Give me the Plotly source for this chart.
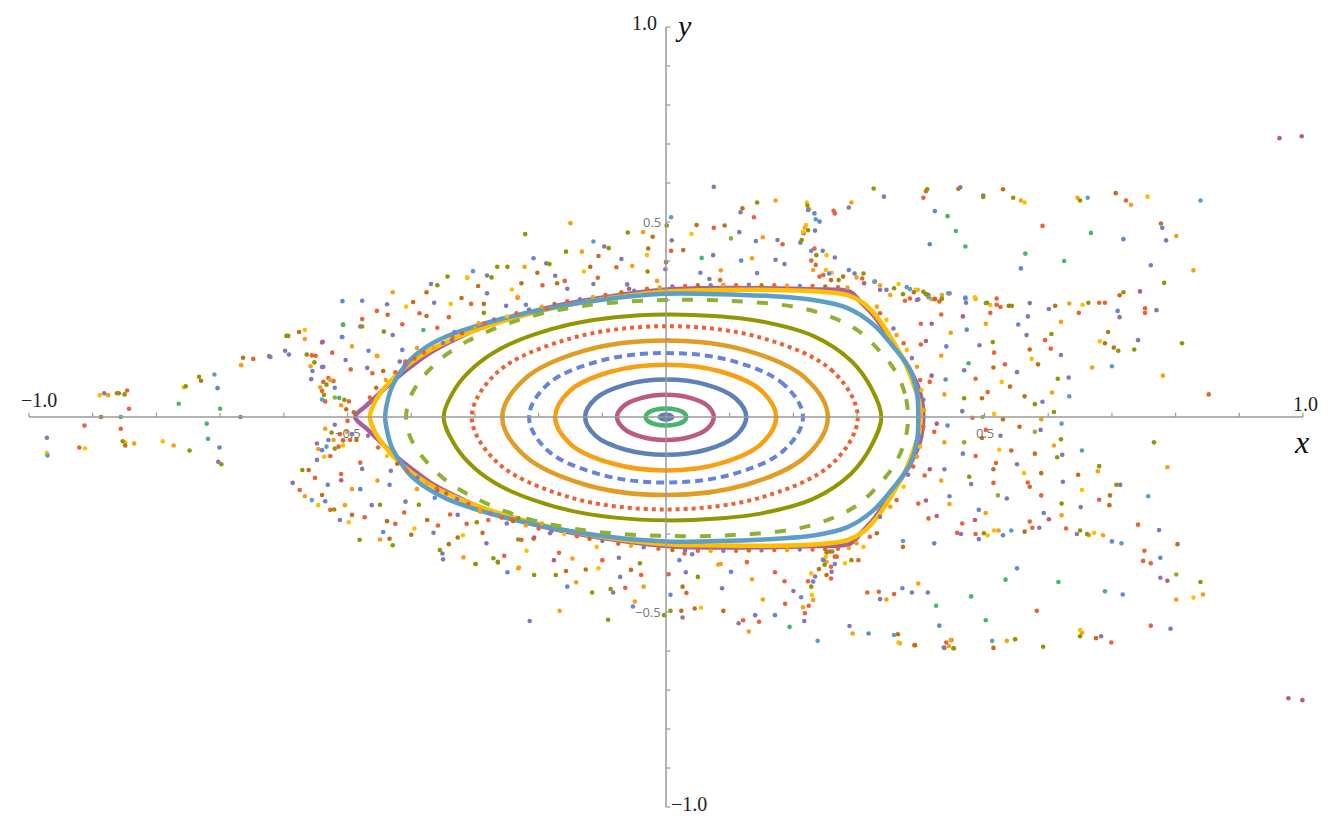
import plotly.graph_objects as go

# ---------------- invariant curves (closed loops, data units) ----------------
core_x = [0.011, 0.006, 0.0, -0.006, -0.011, -0.006, 0.0, 0.006, 0.011]
core_y = [0.0, 0.007, 0.008, 0.007, 0.0, -0.007, -0.008, -0.007, 0.0]

c2_x = [0.032, 0.028, 0.016, 0, -0.016, -0.028, -0.032, -0.028, -0.016, 0, 0.016, 0.028, 0.032]
c2_y = [0, 0.011, 0.019, 0.022, 0.019, 0.011, 0, -0.011, -0.019, -0.022, -0.019, -0.011, 0]

c3_x = [0.075, 0.065, 0.038, 0, -0.038, -0.066, -0.077, -0.066, -0.038, 0, 0.038, 0.065, 0.075]
c3_y = [0, 0.029, 0.049, 0.057, 0.049, 0.029, 0, -0.030, -0.051, -0.059, -0.051, -0.030, 0]

c4_x = [0.126, 0.109, 0.063, 0, -0.063, -0.110, -0.127, -0.110, -0.063, 0, 0.063, 0.109, 0.126]
c4_y = [0, 0.048, 0.083, 0.096, 0.083, 0.048, 0, -0.049, -0.084, -0.097, -0.084, -0.049, 0]

c5_x = [0.173, 0.150, 0.087, 0, -0.087, -0.151, -0.174, -0.151, -0.087, 0, 0.087, 0.150, 0.173]
c5_y = [0, 0.067, 0.116, 0.134, 0.116, 0.067, 0, -0.068, -0.118, -0.137, -0.118, -0.068, 0]

c6_x = [0.215, 0.186, 0.108, 0, -0.108, -0.187, -0.215, -0.187, -0.108, 0, 0.108, 0.186, 0.215]
c6_y = [0, 0.082, 0.142, 0.164, 0.142, 0.082, 0, -0.084, -0.145, -0.168, -0.145, -0.084, 0]

c7_x = [0.254, 0.220, 0.127, 0, -0.128, -0.223, -0.257, -0.223, -0.128, 0, 0.127, 0.220, 0.254]
c7_y = [0, 0.098, 0.170, 0.196, 0.170, 0.096, 0, -0.098, -0.173, -0.200, -0.173, -0.100, 0]

c8_x = [0.301, 0.262, 0.152, 0, -0.153, -0.266, -0.305, -0.266, -0.153, 0, 0.152, 0.262, 0.301]
c8_y = [0, 0.117, 0.202, 0.233, 0.200, 0.113, 0, -0.115, -0.205, -0.237, -0.205, -0.118, 0]

c9_x = [0.338, 0.322, 0.290, 0.231, 0.150, 0.075, 0, -0.080, -0.150, -0.210, -0.260, -0.300, -0.330, -0.349,
        -0.330, -0.300, -0.260, -0.210, -0.150, -0.080, 0, 0.075, 0.150, 0.231, 0.290, 0.322, 0.338]
c9_y = [0, 0.075, 0.145, 0.208, 0.245, 0.259, 0.263, 0.256, 0.238, 0.210, 0.175, 0.130, 0.075, 0,
        -0.076, -0.132, -0.177, -0.212, -0.240, -0.258, -0.265, -0.261, -0.247, -0.210, -0.146, -0.075, 0]

c10_x = [0.380, 0.375, 0.360, 0.336, 0.302, 0.257, 0.200, 0.100, 0, -0.100, -0.170, -0.225, -0.270, -0.310,
         -0.345, -0.372, -0.392, -0.404, -0.408,
         -0.404, -0.392, -0.372, -0.345, -0.310, -0.270, -0.225, -0.170, -0.100, 0, 0.100, 0.200, 0.257, 0.302,
         0.336, 0.360, 0.375, 0.380]
c10_y = [0, 0.060, 0.118, 0.168, 0.221, 0.258, 0.283, 0.298, 0.300, 0.291, 0.274, 0.252, 0.226, 0.196,
         0.160, 0.120, 0.080, 0.040, 0,
         -0.041, -0.081, -0.122, -0.163, -0.199, -0.230, -0.257, -0.279, -0.296, -0.305, -0.303, -0.288,
         -0.262, -0.224, -0.170, -0.119, -0.060, 0]

c11_x = [0.396, 0.394, 0.383, 0.357, 0.325, 0.284, 0.231, 0.175, 0.080, 0, -0.080, -0.180, -0.250, -0.300, -0.344,
         -0.376, -0.402, -0.418, -0.431, -0.438, -0.441,
         -0.438, -0.431, -0.418, -0.402, -0.376, -0.344, -0.300, -0.250, -0.180, -0.080, 0, 0.080, 0.175, 0.231,
         0.284, 0.325, 0.357, 0.383, 0.394, 0.396]
c11_y = [0, 0.061, 0.121, 0.180, 0.238, 0.280, 0.300, 0.309, 0.315, 0.316, 0.305, 0.280, 0.255, 0.232, 0.207,
         0.180, 0.146, 0.112, 0.074, 0.035, 0,
         -0.035, -0.075, -0.113, -0.148, -0.182, -0.210, -0.236, -0.259, -0.284, -0.309, -0.319, -0.318, -0.312,
         -0.304, -0.283, -0.240, -0.181, -0.121, -0.061, 0]

c12_x = [0.400, 0.398, 0.388, 0.373, 0.352, 0.331, 0.310, 0.284, 0.231, 0.150, 0.050, 0, -0.080, -0.160, -0.220,
         -0.280, -0.330, -0.370, -0.400, -0.425, -0.444, -0.458, -0.465,
         -0.458, -0.444, -0.425, -0.400, -0.370, -0.330, -0.280, -0.220, -0.160, -0.080, 0, 0.050, 0.150, 0.231,
         0.284, 0.310, 0.331, 0.352, 0.373, 0.388, 0.398, 0.400]
c12_y = [0, 0.035, 0.086, 0.146, 0.206, 0.257, 0.292, 0.313, 0.323, 0.326, 0.325, 0.322, 0.307, 0.285, 0.262,
         0.233, 0.203, 0.172, 0.140, 0.105, 0.070, 0.035, 0,
         -0.035, -0.070, -0.106, -0.142, -0.174, -0.206, -0.237, -0.266, -0.290, -0.312, -0.326, -0.329, -0.330,
         -0.327, -0.316, -0.294, -0.258, -0.207, -0.147, -0.087, -0.035, 0]

c13_x = [0.404, 0.399, 0.386, 0.367, 0.346, 0.325, 0.305, 0.289, 0.231, 0.150, 0.050, 0, -0.080, -0.160, -0.220,
         -0.280, -0.330, -0.370, -0.400, -0.430, -0.450, -0.470, -0.488,
         -0.470, -0.450, -0.430, -0.400, -0.370, -0.330, -0.280, -0.220, -0.160, -0.080, 0, 0.050, 0.150, 0.231,
         0.289, 0.305, 0.325, 0.346, 0.367, 0.386, 0.399, 0.404]
c13_y = [0, 0.061, 0.112, 0.163, 0.215, 0.262, 0.296, 0.321, 0.327, 0.330, 0.330, 0.327, 0.311, 0.289, 0.266,
         0.236, 0.200, 0.165, 0.130, 0.090, 0.060, 0.030, 0,
         -0.030, -0.061, -0.092, -0.132, -0.168, -0.203, -0.240, -0.270, -0.293, -0.315, -0.331, -0.334, -0.334,
         -0.331, -0.325, -0.299, -0.264, -0.216, -0.164, -0.113, -0.061, 0]

# ---------------- chaotic orbit points, by colour ----------------
pts_red = [(0.408, 0.579), (0.404, 0.562), (0.591, 0.49), (0.722, 0.555), (0.752, 0.279), (0.752, 0.267),
           (0.689, 0.293), (0.68, 0.293), (0.648, 0.267), (0.595, 0.197), (0.604, 0.175), (0.852, 0.058),
           (0.525, 0.282), (0.519, 0.288), (0.509, 0.267), (0.515, 0.165), (0.486, 0.098), (0.532, 0.135),
           (0.505, 0.064), (0.432, 0.263), (0.4, 0.239), (0.4, 0.186), (0.414, 0.09), (0.429, 0.296),
           (0.422, 0.303), (0.375, 0.298), (0.481, -0.002), (0.421, -0.038), (0.502, -0.033), (0.486, -0.1),
           (0.68, -0.212), (0.589, -0.201), (0.568, -0.168), (0.518, -0.118), (0.514, -0.169), (0.406, -0.15),
           (0.396, -0.222), (0.412, -0.26), (0.465, -0.273), (0.457, -0.297), (0.486, -0.3), (0.571, -0.268),
           (0.575, -0.284), (0.628, -0.286), (0.741, -0.276), (0.751, -0.343), (0.749, -0.369), (0.761, -0.375),
           (0.761, -0.535), (0.699, -0.578), (0.582, -0.497), (0.44, -0.578), (-0.913, -0.022), (-0.921, -0.078),
           (-0.846, 0.068), (-0.843, 0.021), (-0.856, -0.03), (-0.648, 0.149), (-0.538, 0.09), (-0.54, 0.067),
           (-0.524, 0.165), (-0.477, 0.251), (-0.495, 0.122), (-0.194, 0.338), (-0.306, 0.29), (-0.187, 0.279),
           (-0.454, 0.272), (-0.387, 0.266), (-0.341, 0.256), (-0.414, 0.238), (-0.359, 0.229), (-0.461, 0.112),
           (-0.409, 0.142), (-0.51, -0.146), (-0.411, -0.245), (-0.473, -0.257), (-0.425, -0.274),
           (-0.358, -0.278), (-0.339, -0.25), (-0.313, -0.274), (-0.279, -0.264), (-0.254, -0.356),
           (-0.243, -0.262), (-0.48, -0.117), (-0.233, 0.306), (-0.159, 0.349), (-0.107, 0.357), (-0.078, 0.384),
           (0.008, 0.426), (0.075, 0.485), (0.138, 0.512), (0.183, 0.443), (0.085, 0.351), (0.216, 0.471),
           (0.233, 0.432), (0.228, 0.401), (0.235, 0.39), (0.241, 0.36), (0.308, 0.355), (0.263, 0.529),
           (0.265, 0.522), (0.383, 0.304), (0.519, 0.304), (-0.227, -0.315), (-0.1, -0.367), (-0.039, -0.405),
           (-0.064, -0.438), (0.004, -0.403), (0.032, -0.451), (0.121, -0.521), (0.146, -0.525), (0.127, -0.372),
           (0.171, -0.398), (0.186, -0.421), (0.187, -0.479), (0.218, -0.503), (0.224, -0.484), (0.223, -0.421),
           (0.259, -0.384), (0.259, -0.414), (0.265, -0.358), (0.316, -0.45), (0.334, -0.448), (0.358, -0.454),
           (0.448, -0.572), (0.029, -0.35), (0.336, 0.266), (0.373, 0.189), (0.399, 0.095), (0.404, -0.025),
           (0.388, -0.127), (0.362, -0.213), (0.32, -0.307), (0.268, -0.358), (0.247, 0.364), (0.328, 0.347),
           (0.412, 0.313), (-0.556, 0.158), (-0.55, 0.157), (-0.53, 0.1), (-0.522, 0.092), (-0.535, 0.04),
           (-0.498, 0.04), (-0.5, -0.01), (-0.527, -0.1), (-0.514, -0.076), (-0.512, -0.044), (-0.496, -0.059),
           (0.302, -0.367), (-0.168, -0.348), (-0.575, -0.187), (-0.527, -0.238), (-0.551, -0.156)]

pts_orange = [(0.557, 0.555), (0.646, 0.562), (0.73, 0.544), (0.801, 0.464), (0.828, 0.376), (0.633, 0.291),
              (0.62, 0.244), (0.502, 0.239), (0.486, 0.303), (0.447, 0.216), (0.432, 0.157), (0.437, 0.058),
              (0.417, 0.302), (0.395, 0.326), (0.606, 0.063), (0.78, 0.106), (0.669, 0.127), (0.589, -0.006),
              (0.437, -0.065), (0.609, -0.073), (0.787, -0.129), (0.678, -0.139), (0.432, -0.163), (0.445, -0.223),
              (0.621, -0.252), (0.502, -0.246), (0.522, -0.291), (0.664, -0.303), (0.686, -0.303), (0.843, -0.455),
              (0.801, -0.468), (0.653, -0.553), (0.535, -0.574), (0.447, -0.572), (0.367, -0.58), (-0.876, 0.056),
              (-0.835, -0.068), (-0.773, -0.073), (-0.667, 0.133), (-0.567, 0.2), (-0.454, 0.157), (-0.493, 0.181),
              (-0.429, 0.32), (-0.233, 0.307), (-0.294, 0.24), (-0.453, 0.156), (-0.391, 0.177), (-0.493, -0.185),
              (-0.453, -0.163), (-0.391, -0.185), (-0.449, -0.314), (-0.318, -0.36), (-0.231, -0.386),
              (-0.292, -0.243), (-0.195, -0.273), (-0.312, 0.357), (-0.222, 0.385), (-0.15, 0.497),
              (-0.132, 0.424), (-0.053, 0.387), (-0.036, 0.474), (-0.014, 0.349), (0.086, 0.376), (0.135, 0.407),
              (0.152, 0.461), (0.172, 0.555), (0.291, 0.55), (0.218, 0.486), (0.231, 0.377), (0.336, 0.338),
              (-0.167, -0.497), (-0.049, -0.473), (-0.232, -0.388), (-0.141, -0.424), (-0.035, -0.435),
              (0.13, -0.55), (0.082, -0.378), (0.135, -0.416), (0.152, -0.468), (0.215, -0.488), (0.231, -0.469),
              (0.252, -0.371), (0.293, -0.555), (0.444, -0.587), (0.346, -0.468), (0.396, -0.427), (0.086, -0.377),
              (0.331, 0.283), (0.362, 0.21), (0.394, 0.129), (0.405, 0.018), (0.394, -0.102), (0.352, -0.23),
              (0.299, -0.324), (0.299, 0.358), (0.352, 0.313), (0.433, 0.313), (-0.558, 0.13), (-0.527, 0.095),
              (-0.543, 0.076), (-0.51, 0.03), (-0.535, -0.03), (-0.546, -0.082), (-0.522, -0.059),
              (-0.501, -0.038), (-0.147, -0.363), (-0.567, -0.203), (-0.504, -0.226)]

pts_yellow = [(0.563, 0.55), (0.756, 0.565), (0.654, 0.288), (0.509, 0.287), (0.574, 0.149), (0.681, 0.194),
              (0.527, 0.09), (0.515, 0.008), (0.523, -0.084), (0.653, -0.187), (0.562, -0.144), (0.505, -0.304),
              (0.515, -0.291), (0.672, -0.297), (0.828, -0.463), (0.65, -0.546), (0.548, -0.57), (-0.889, 0.056),
              (-0.849, -0.065), (-0.912, -0.08), (-0.972, -0.092), (-0.79, -0.062), (-0.757, 0.076),
              (-0.567, 0.223), (-0.312, 0.358), (-0.338, 0.29), (-0.242, 0.327), (-0.408, 0.283), (-0.498, -0.27),
              (-0.395, -0.286), (-0.319, -0.303), (-0.219, -0.343), (-0.129, 0.373), (-0.03, 0.415),
              (0.04, 0.469), (0.221, 0.55), (0.225, 0.533), (0.22, 0.492), (0.215, 0.475), (0.252, 0.415),
              (0.251, 0.377), (0.392, 0.326), (0.485, 0.307), (0.055, -0.489), (-0.106, -0.388), (0.229, -0.456),
              (0.228, -0.401), (0.251, -0.358), (0.246, -0.365), (0.365, -0.578), (0.346, 0.249), (0.378, 0.172),
              (0.401, 0.069), (0.399, -0.076), (0.373, -0.179), (0.31, -0.333), (0.281, -0.375), (0.26, 0.37),
              (0.365, 0.341), (-0.537, -0.102), (-0.507, -0.073), (-0.109, -0.333), (-0.546, -0.226)]

pts_brown = [(0.459, 0.585), (0.529, 0.584), (0.706, 0.574), (0.777, 0.496), (0.712, 0.312), (0.694, 0.218),
             (0.611, 0.285), (0.571, 0.173), (0.584, 0.135), (0.689, 0.189), (0.703, 0.178), (0.514, 0.127),
             (0.54, 0.078), (0.496, 0.048), (0.389, 0.32), (0.563, 0.053), (0.538, 0.285), (0.529, -0.006),
             (0.496, -0.054), (0.555, -0.025), (0.542, -0.086), (0.579, -0.094), (0.647, -0.148), (0.697, -0.201),
             (0.696, -0.226), (0.589, -0.144), (0.571, -0.179), (0.514, -0.134), (0.563, -0.294), (0.803, -0.326),
             (0.675, -0.567), (0.437, -0.592), (0.391, -0.585), (0.514, -0.592), (0.372, -0.333), (-0.859, 0.061),
             (-0.887, 0.0), (-0.849, -0.073), (-0.73, 0.093), (-0.664, 0.152), (-0.623, 0.156), (-0.576, 0.218),
             (-0.202, 0.37), (-0.227, 0.343), (-0.171, 0.343), (-0.295, 0.336), (-0.376, 0.32), (-0.397, 0.295),
             (-0.321, 0.305), (-0.286, 0.29), (-0.437, 0.262), (-0.376, 0.259), (-0.444, 0.118), (-0.438, -0.267),
             (-0.375, -0.264), (-0.434, -0.312), (-0.4, -0.302), (-0.327, -0.309), (-0.341, -0.326),
             (-0.288, -0.297), (-0.119, 0.385), (-0.106, 0.413), (-0.028, 0.432), (-0.021, 0.462), (0.0, 0.397),
             (0.027, 0.428), (0.048, 0.492), (0.092, 0.491), (0.12, 0.535), (0.259, 0.351), (0.024, -0.497),
             (0.045, -0.491), (0.09, -0.497), (0.026, -0.435), (-0.055, -0.392), (-0.126, -0.391),
             (-0.157, -0.395), (0.24, -0.39), (0.252, -0.405), (0.252, -0.347), (0.364, -0.557), (0.39, -0.585),
             (0.331, -0.298), (0.257, -0.345), (0.278, 0.36), (0.422, 0.302), (-0.502, 0.02), (-0.49, 0.012),
             (-0.507, -0.06), (-0.486, -0.059), (-0.561, -0.136), (-0.54, -0.2), (-0.493, -0.251)]

pts_purple = [(0.462, 0.589), (0.498, 0.568), (0.785, 0.453), (0.761, 0.389), (0.77, 0.274), (0.712, 0.256),
              (0.601, 0.277), (0.571, 0.292), (0.568, 0.258), (0.566, 0.21), (0.62, 0.159), (0.741, 0.197),
              (0.492, 0.184), (0.468, 0.12), (0.551, 0.115), (0.465, 0.015), (0.632, 0.101), (0.591, 0.039),
              (0.471, 0.293), (0.445, 0.317), (0.396, 0.302), (0.525, -0.048), (0.588, -0.033), (0.466, -0.094),
              (0.622, -0.097), (0.713, -0.174), (0.651, -0.231), (0.623, -0.166), (0.551, -0.121), (0.535, -0.209),
              (0.479, -0.172), (0.463, -0.3), (0.491, -0.313), (0.586, -0.284), (0.645, -0.3), (0.774, -0.29),
              (0.776, -0.412), (0.792, -0.543), (0.683, -0.562), (-0.972, -0.053), (-0.882, 0.061),
              (-0.703, -0.115), (-0.598, 0.17), (-0.592, 0.16), (-0.557, 0.097), (-0.54, 0.128), (-0.54, 0.191),
              (-0.48, 0.232), (-0.503, 0.146), (-0.469, 0.126), (-0.281, 0.363), (-0.369, 0.341), (-0.438, 0.289),
              (-0.364, 0.293), (-0.281, 0.317), (-0.251, 0.285), (-0.429, 0.21), (-0.336, 0.197), (-0.418, 0.142),
              (-0.477, -0.133), (-0.432, -0.138), (-0.409, -0.217), (-0.462, -0.226), (-0.365, -0.297),
              (-0.327, -0.251), (-0.351, -0.35), (-0.264, -0.371), (-0.25, -0.273), (-0.182, -0.298),
              (-0.188, 0.394), (-0.174, 0.362), (-0.155, 0.329), (-0.114, 0.341), (-0.097, 0.437), (-0.07, 0.405),
              (-0.001, 0.379), (0.009, 0.453), (0.075, 0.59), (0.115, 0.474), (0.175, 0.454), (0.074, 0.415),
              (0.172, 0.403), (0.186, 0.392), (0.143, 0.369), (0.068, 0.354), (0.117, 0.525), (0.287, 0.537),
              (0.342, 0.565), (0.234, 0.478), (0.211, 0.447), (0.265, 0.409), (0.296, 0.368), (0.346, 0.326),
              (-0.214, -0.523), (0.026, -0.514), (0.114, -0.529), (0.14, -0.508), (0.217, -0.523), (0.2, -0.446),
              (0.088, -0.439), (0.031, -0.398), (-0.072, -0.41), (-0.083, -0.45), (-0.074, -0.361),
              (-0.282, -0.324), (0.234, -0.409), (0.26, -0.397), (0.288, -0.536), (0.336, -0.467), (0.386, -0.45),
              (0.436, -0.591), (0.357, 0.227), (0.386, 0.151), (0.404, 0.044), (0.401, -0.05), (0.38, -0.148),
              (0.336, -0.256), (0.336, 0.326), (0.394, 0.3), (-0.52, -0.02), (-0.548, -0.068), (-0.493, -0.044),
              (-0.548, -0.11), (0.041, -0.352), (-0.538, 0.129), (-0.586, -0.169), (-0.512, -0.264)]

pts_blue = [(0.422, 0.528), (0.414, 0.443), (0.557, 0.381), (0.718, 0.456), (0.779, 0.485), (0.709, 0.272),
            (0.553, 0.237), (0.472, 0.224), (0.47, 0.306), (0.44, 0.181), (0.439, 0.096), (0.442, -0.022),
            (0.437, -0.134), (0.445, -0.203), (0.491, -0.238), (0.529, -0.303), (0.593, -0.246), (0.7, -0.319),
            (0.776, -0.361), (0.717, -0.455), (0.551, -0.388), (0.411, -0.45), (0.429, -0.535), (0.421, -0.324),
            (-0.704, 0.074), (-0.701, -0.078), (-0.668, 0.0), (-0.621, 0.154), (-0.508, 0.297), (-0.508, 0.205),
            (-0.467, 0.17), (-0.477, 0.298), (-0.22, 0.288), (-0.332, 0.218), (-0.509, 0.205), (-0.414, 0.172),
            (-0.48, -0.185), (-0.434, -0.174), (-0.363, -0.207), (-0.444, -0.295), (-0.35, -0.365),
            (-0.535, -0.216), (-0.208, 0.407), (-0.061, 0.34), (0.141, 0.451), (0.054, 0.37), (0.118, 0.401),
            (0.223, 0.531), (0.233, 0.522), (0.241, 0.501), (0.228, 0.426), (0.246, 0.426), (0.256, 0.368),
            (0.287, 0.377), (0.408, 0.315), (0.47, 0.304), (0.007, -0.456), (0.171, -0.508), (0.212, -0.462),
            (0.102, -0.397), (0.021, -0.367), (-0.155, -0.435), (-0.249, -0.398), (-0.052, -0.486),
            (0.231, -0.422), (0.265, -0.377), (0.318, -0.555), (0.371, -0.439), (0.247, -0.367),
            (-0.555, 0.118), (-0.52, 0.075), (-0.54, -0.085), (-0.53, -0.059), (-0.531, -0.174)]

pts_lightblue = [(0.662, 0.562), (0.839, 0.555), (0.502, 0.292), (0.7, 0.13), (0.633, 0.053), (0.383, 0.328),
                 (0.412, 0.307), (0.621, -0.017), (0.653, -0.086), (0.757, -0.203), (0.542, -0.291),
                 (0.715, -0.324), (0.512, -0.574), (0.372, -0.318), (-0.971, -0.099), (-0.709, 0.109),
                 (-0.303, 0.374), (-0.114, 0.45), (0.008, 0.512), (0.235, 0.507), (0.327, 0.347),
                 (0.238, -0.574), (0.358, -0.559), (0.378, 0.333), (0.443, 0.317), (-0.54, 0.045),
                 (-0.533, -0.076), (-0.556, -0.213)]

pts_olive = [(0.41, 0.584), (0.498, 0.564), (0.545, 0.562), (0.65, 0.555), (0.718, 0.32), (0.663, 0.293),
             (0.605, 0.213), (0.513, 0.192), (0.71, 0.17), (0.735, 0.173), (0.81, 0.189), (0.615, 0.098),
             (0.579, 0.033), (0.609, 0.013), (0.468, 0.048), (0.433, 0.303), (0.504, 0.293), (0.543, 0.285),
             (0.409, 0.315), (0.372, 0.315), (0.782, 0.344), (0.62, -0.057), (0.766, -0.065), (0.68, -0.126),
             (0.707, -0.174), (0.614, -0.103), (0.621, -0.222), (0.476, -0.153), (0.499, -0.298), (0.65, -0.291),
             (0.661, -0.3), (0.839, -0.423), (0.65, -0.562), (0.592, -0.589), (0.548, -0.57), (0.452, -0.593),
             (-0.862, 0.061), (-0.85, 0.058), (-0.853, -0.062), (-0.754, 0.079), (-0.733, 0.103),
             (-0.748, -0.086), (-0.698, -0.121), (-0.596, 0.208), (-0.593, 0.208), (-0.507, 0.236),
             (-0.343, 0.36), (-0.274, 0.358), (-0.359, 0.338), (-0.286, 0.267), (-0.477, 0.232), (-0.443, 0.219),
             (-0.521, -0.237), (-0.449, -0.225), (-0.388, -0.225), (-0.481, -0.315), (-0.429, -0.329),
             (-0.297, -0.27), (-0.355, -0.341), (-0.299, -0.377), (-0.271, -0.362), (-0.232, -0.259),
             (-0.232, -0.314), (-0.208, -0.312), (-0.265, 0.385), (-0.249, 0.385), (-0.221, 0.469),
             (-0.183, 0.392), (-0.157, 0.424), (-0.09, 0.433), (-0.06, 0.473), (-0.029, 0.373), (0.001, 0.491),
             (0.143, 0.55), (0.326, 0.586), (0.222, 0.542), (0.223, 0.479), (0.213, 0.454), (0.236, 0.415),
             (0.271, 0.351), (0.358, 0.33), (0.433, 0.304), (-0.091, -0.52), (-0.003, -0.508), (0.007, -0.497),
             (0.05, -0.41), (-0.041, -0.375), (-0.087, -0.441), (-0.116, -0.45), (-0.173, -0.405),
             (-0.207, -0.405), (-0.264, -0.373), (-0.299, -0.377), (0.228, -0.435), (0.249, -0.379),
             (0.261, -0.345), (0.451, -0.593), (0.291, -0.367), (0.31, 0.368), (0.404, 0.321), (-0.564, 0.16),
             (-0.552, 0.14), (-0.533, 0.083), (-0.537, 0.057), (-0.505, 0.044), (-0.525, -0.04), (-0.52, -0.081),
             (-0.571, -0.136)]

pts_green = [(0.102, 0.458), (0.468, -0.065), (0.521, -0.201), (0.801, -0.404), (0.579, -0.038),
             (-0.52, 0.05), (0.497, 0.0)]

pts_teal = [(0.442, 0.515), (0.455, 0.477), (0.47, 0.437), (0.564, 0.419), (0.625, 0.4), (0.667, 0.472),
            (0.475, 0.138), (0.616, -0.423), (0.533, -0.417), (0.502, -0.521), (0.479, -0.46), (0.424, -0.484),
            (0.689, -0.447), (-0.856, 0.0), (-0.765, 0.034), (-0.7, 0.021), (-0.721, -0.017), (-0.719, -0.056),
            (-0.507, 0.238), (-0.381, 0.223), (0.056, 0.408), (0.194, -0.538), (-0.513, 0.049)]

pts_pink = [(0.963, 0.715), (0.998, 0.72), (0.744, 0.322), (0.466, 0.258), (0.417, 0.239), (0.408, 0.195),
            (0.417, 0.106), (0.977, -0.721), (0.999, -0.726), (0.425, -0.017), (0.414, -0.134), (0.408, -0.214),
            (0.425, -0.254), (0.485, -0.264), (0.601, -0.262), (0.787, -0.42), (-0.51, -0.162), (-0.359, -0.187),
            (-0.176, -0.367), (-0.539, 0.193), (-0.058, 0.329), (0.311, 0.343), (-0.207, -0.309)]

# dots of the chaotic layer that hug the outermost curve (top and bottom fringe)
fringe_top = [(-0.465, 0.05, "#EB6235"), (-0.455, 0.075, "#C56E1A"), (-0.44, 0.095, "#F89F13"),
              (-0.425, 0.115, "#EB6235"), (-0.41, 0.135, "#8778B3"), (-0.395, 0.15, "#C56E1A"),
              (-0.38, 0.165, "#EB6235"), (-0.365, 0.178, "#F89F13"), (-0.35, 0.19, "#8778B3"),
              (-0.335, 0.205, "#EB6235"), (-0.32, 0.215, "#C56E1A"), (-0.3, 0.228, "#F89F13"),
              (-0.285, 0.24, "#EB6235"), (-0.27, 0.25, "#8778B3"), (-0.25, 0.258, "#FFBF00"),
              (-0.235, 0.266, "#EB6235"), (-0.215, 0.276, "#8778B3"), (-0.195, 0.283, "#F89F13"),
              (-0.175, 0.29, "#C56E1A"), (-0.155, 0.297, "#EB6235"), (-0.135, 0.302, "#8778B3"),
              (-0.115, 0.308, "#F89F13"), (-0.095, 0.313, "#EB6235"), (-0.07, 0.32, "#C56E1A"),
              (-0.05, 0.324, "#8778B3"), (-0.03, 0.329, "#EB6235"), (-0.01, 0.332, "#F89F13"),
              (0.01, 0.335, "#8778B3"), (0.03, 0.336, "#EB6235"), (0.05, 0.338, "#C56E1A"),
              (0.07, 0.338, "#8778B3"), (0.09, 0.339, "#F89F13"), (0.11, 0.338, "#EB6235"),
              (0.13, 0.339, "#8778B3"), (0.15, 0.338, "#C56E1A"), (0.17, 0.338, "#EB6235"),
              (0.19, 0.337, "#F89F13"), (0.21, 0.336, "#8778B3"), (0.23, 0.336, "#EB6235"),
              (0.25, 0.335, "#C56E1A"), (0.27, 0.333, "#EB6235"), (0.285, 0.332, "#F89F13")]
fringe_bottom = [(-0.468, -0.048, "#8778B3"), (-0.452, -0.078, "#EB6235"), (-0.438, -0.1, "#FFBF00"),
                 (-0.422, -0.12, "#C56E1A"), (-0.407, -0.138, "#EB6235"), (-0.39, -0.155, "#8778B3"),
                 (-0.375, -0.17, "#F89F13"), (-0.36, -0.183, "#EB6235"), (-0.345, -0.196, "#C56E1A"),
                 (-0.328, -0.21, "#8778B3"), (-0.31, -0.222, "#EB6235"), (-0.292, -0.236, "#F89F13"),
                 (-0.275, -0.247, "#8778B3"), (-0.258, -0.258, "#EB6235"), (-0.24, -0.267, "#C56E1A"),
                 (-0.22, -0.278, "#F89F13"), (-0.2, -0.286, "#EB6235"), (-0.18, -0.293, "#8778B3"),
                 (-0.16, -0.3, "#FFBF00"), (-0.14, -0.306, "#EB6235"), (-0.12, -0.312, "#C56E1A"),
                 (-0.1, -0.318, "#8778B3"), (-0.075, -0.325, "#EB6235"), (-0.055, -0.33, "#F89F13"),
                 (-0.035, -0.334, "#8778B3"), (-0.012, -0.338, "#EB6235"), (0.01, -0.341, "#C56E1A"),
                 (0.03, -0.342, "#8778B3"), (0.05, -0.343, "#EB6235"), (0.07, -0.343, "#F89F13"),
                 (0.09, -0.343, "#8778B3"), (0.11, -0.343, "#EB6235"), (0.13, -0.342, "#C56E1A"),
                 (0.15, -0.342, "#8778B3"), (0.17, -0.341, "#EB6235"), (0.19, -0.341, "#F89F13"),
                 (0.21, -0.34, "#8778B3"), (0.23, -0.34, "#EB6235"), (0.25, -0.339, "#C56E1A"),
                 (0.27, -0.338, "#EB6235"), (0.287, -0.336, "#F89F13")]

# axis ticks
tick_vals = [-1.0, -0.9, -0.8, -0.7, -0.6, -0.5, -0.4, -0.3, -0.2, -0.1,
             0.1, 0.2, 0.3, 0.4, 0.5, 0.6, 0.7, 0.8, 0.9, 1.0]

# ---------------- figure ----------------
fig = go.Figure()

curves = [
    (c13_x, c13_y, "#A5609D", 4.5, "solid", 1.0),
    (c12_x, c12_y, "#FFBF00", 4.5, "solid", 1.0),
    (c11_x, c11_y, "#5D9EC7", 4.5, "solid", 1.0),
    (c10_x, c10_y, "#8FB032", 4, "11px,14px", 1.0),
    (c9_x, c9_y, "#929600", 4, "solid", 1.0),
    (c8_x, c8_y, "#EB6235", 4, "4px,4px", 1.0),
    (c7_x, c7_y, "#E19C24", 4.5, "solid", 1.05),
    (c6_x, c6_y, "#6685D9", 4, "8px,5px", 1.05),
    (c5_x, c5_y, "#F89F13", 4.5, "solid", 1.05),
    (c4_x, c4_y, "#5E81B5", 4.5, "solid", 1.05),
    (c3_x, c3_y, "#BC5B80", 4.5, "solid", 1.05),
    (c2_x, c2_y, "#47B66D", 4.5, "solid", 1.05),
]
for cx, cy, col, w, dash, sm in curves:
    fig.add_trace(go.Scatter(x=cx, y=cy, mode="lines",
                             line=dict(color=col, width=w, dash=dash, shape="spline", smoothing=sm),
                             hoverinfo="skip", showlegend=False))

fig.add_trace(go.Scatter(x=core_x, y=core_y, mode="lines", fill="toself", fillcolor="#5E81B5",
                         line=dict(color="#5E81B5", width=3, shape="spline"),
                         hoverinfo="skip", showlegend=False))

groups = [
    (pts_red, "#EB6235"), (pts_orange, "#F89F13"), (pts_yellow, "#FFBF00"), (pts_brown, "#C56E1A"),
    (pts_purple, "#8778B3"), (pts_blue, "#6685D9"), (pts_lightblue, "#5D9EC7"), (pts_olive, "#929600"),
    (pts_green, "#8FB032"), (pts_teal, "#47B66D"), (pts_pink, "#BC5B80"),
]
for pts, col in groups:
    fig.add_trace(go.Scatter(x=[p[0] for p in pts], y=[p[1] for p in pts], mode="markers",
                             marker=dict(color=col, size=4.6, line=dict(width=0)),
                             hoverinfo="skip", showlegend=False))
for fr in (fringe_top, fringe_bottom):
    fig.add_trace(go.Scatter(x=[p[0] for p in fr], y=[p[1] for p in fr], mode="markers",
                             marker=dict(color=[p[2] for p in fr], size=4.4, line=dict(width=0)),
                             hoverinfo="skip", showlegend=False))

axis_col = "#9a9a9a"
shapes = [
    dict(type="line", xref="x", yref="y", x0=-1.0, x1=1.0, y0=0, y1=0, line=dict(color=axis_col, width=1.5)),
    dict(type="line", xref="x", yref="y", x0=0, x1=0, y0=-1.0, y1=1.0, line=dict(color=axis_col, width=1.5)),
]
for t in tick_vals:
    shapes.append(dict(type="line", xref="x", yref="y", x0=t, x1=t, y0=0, y1=0.011,
                       line=dict(color=axis_col, width=1.2)))
    shapes.append(dict(type="line", xref="x", yref="y", x0=0, x1=0.0068, y0=t, y1=t,
                       line=dict(color=axis_col, width=1.2)))

serif = "Liberation Serif, DejaVu Serif, serif"
sans = "Open Sans, Liberation Sans, sans-serif"
ann = [
    dict(x=0, y=1.0, text="1.0", xanchor="right", yanchor="middle", xshift=-7, yshift=4,
         font=dict(family=serif, size=20, color="#222")),
    dict(x=0, y=1.0, text="<i>y</i>", xanchor="left", yanchor="top", xshift=7, yshift=20,
         font=dict(family=serif, size=30, color="#111")),
    dict(x=0, y=-1.0, text="\u22121.0", xanchor="left", yanchor="middle", xshift=3, yshift=3,
         font=dict(family=serif, size=20, color="#222")),
    dict(x=-1.0, y=0, text="\u22121.0", xanchor="center", yanchor="bottom", xshift=10, yshift=4,
         font=dict(family=serif, size=20, color="#222")),
    dict(x=1.0, y=0, text="1.0", xanchor="center", yanchor="bottom", xshift=2, yshift=0,
         font=dict(family=serif, size=20, color="#222")),
    dict(x=1.0, y=0, text="<i>x</i>", xanchor="center", yanchor="top", xshift=-2, yshift=-5,
         font=dict(family=serif, size=32, color="#111")),
    dict(x=0.5, y=0, text="0.5", xanchor="center", yanchor="top", yshift=-5,
         font=dict(family=sans, size=13, color="#777")),
    dict(x=-0.5, y=0, text="\u22120.5", xanchor="center", yanchor="top", yshift=-5,
         font=dict(family=sans, size=13, color="#777")),
    dict(x=0, y=0.5, text="0.5", xanchor="right", yanchor="middle", xshift=-3,
         font=dict(family=sans, size=13, color="#777")),
    dict(x=0, y=-0.5, text="\u22120.5", xanchor="right", yanchor="middle", xshift=-3,
         font=dict(family=sans, size=13, color="#777")),
]
for a in ann:
    a.update(xref="x", yref="y", showarrow=False)

# the page body has an 8px margin, so the figure starts at (8, 8) in the window
fig.update_layout(
    width=1317, height=820,
    margin=dict(l=0, r=0, t=0, b=0),
    paper_bgcolor="white", plot_bgcolor="white",
    xaxis=dict(range=[-1.0330, 1.0345], visible=False, fixedrange=True),
    yaxis=dict(range=[-1.0538, 1.0487], visible=False, fixedrange=True),
    shapes=shapes, annotations=ann, showlegend=False,
)

fig.write_html("out.html")
